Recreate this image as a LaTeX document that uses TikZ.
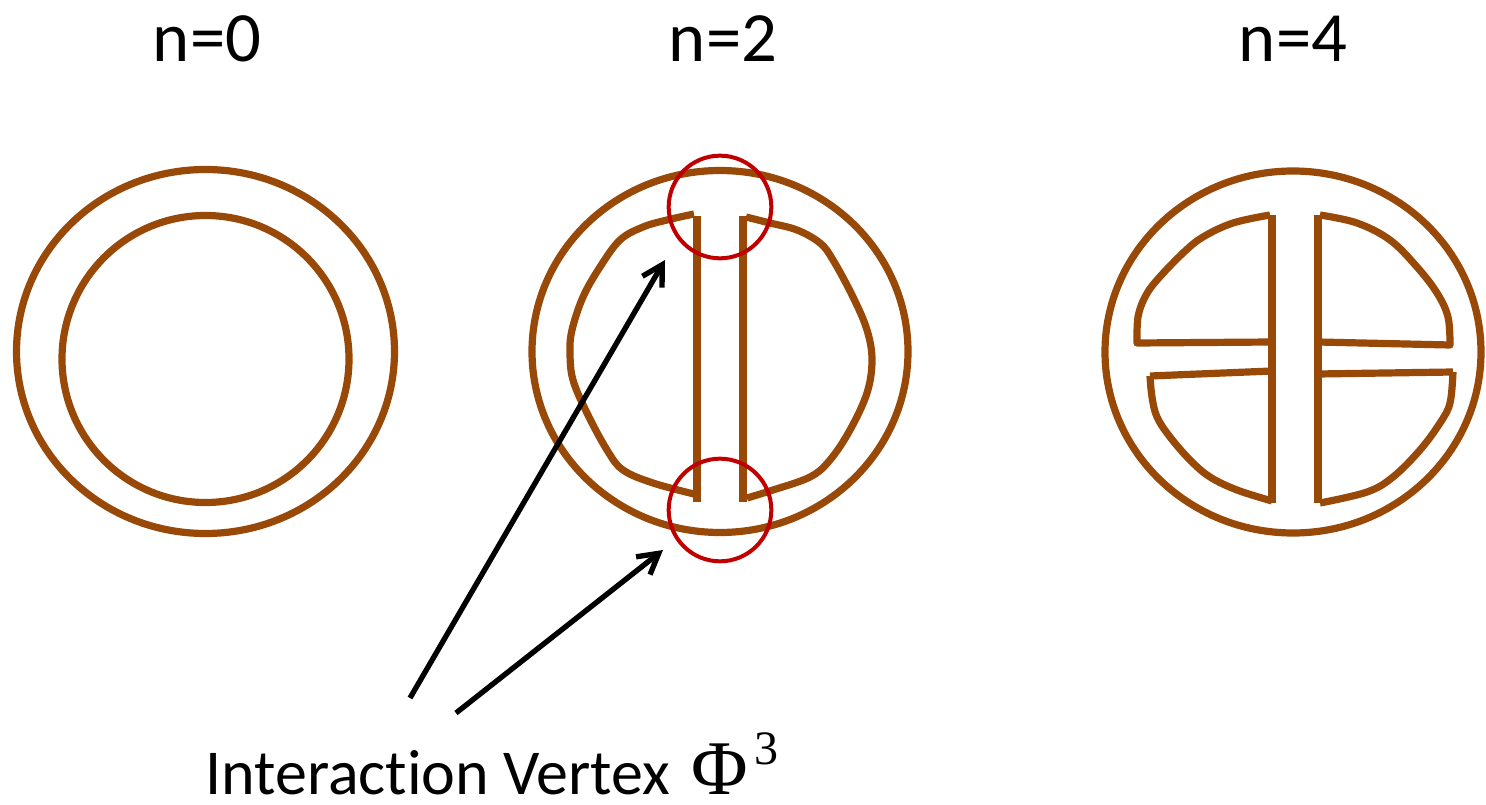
\documentclass[tikz,border=0pt]{standalone}
\usepackage{fontspec}
\setmainfont[Ligatures=NoCommon]{Carlito}
\newfontfamily\phifont{Liberation Serif}
\usetikzlibrary{arrows.meta}
\definecolor{loopbrown}{HTML}{984807}
\definecolor{vertexred}{HTML}{C00000}
\tikzset{
  brownline/.style={
    draw=loopbrown,
    line width=5.4pt,
    line join=round
  },
  vertex/.style={
    draw=vertexred,
    line width=3pt,
    circle,
    minimum size=77pt,
    inner sep=0pt
  },
  pointer/.style={
    draw=black,
    line width=4pt,
    -{Straight Barb[length=15pt,width=17pt]}
  },
  heading/.style={
    anchor=base,
    inner sep=0pt,
    font=\fontsize{53}{62}\selectfont
  }
}

\begin{document}
\begin{tikzpicture}[x=0.75pt, y=-0.75pt]
    \useasboundingbox (0,0) rectangle (1486,805);

    % 見出し
    \node[heading] (t0) at (207,62) {n=0};
    \node[heading] (t2) at (723,62) {n=2};
    \node[heading] (t4) at (1293,62) {n=4};

    % n=0
    \draw[brownline] (205.5,351.5) ellipse [x radius=189, y radius=182];
    \draw[brownline] (205.5,359) circle [radius=143.5];

    % n=2
    \draw[brownline] (720,351.5) ellipse [x radius=188, y radius=181];
    \draw[brownline] (697,216) -- (697,502);
    \draw[brownline] (743,216) -- (743,502);
    \draw[brownline] plot[smooth, tension=0.6] coordinates {
      (694,214) (667,220) (643,227) (620,240) (600,267) (583,297)
      (572,330) (570,353) (573,380) (587,413) (607,450) (623,470)
      (653,483) (694,494)};
    \draw[brownline] plot[smooth, tension=0.6] coordinates {
      (746,217) (770,223) (797,230) (820,243) (833,260) (853,297)
      (867,330) (872,360) (867,393) (850,430) (830,460) (810,477)
      (773,490) (747,498)};
    \node[vertex] (vtop) at (720,207) {};
    \node[vertex] (vbot) at (720,510) {};

    % n=4
    \draw[brownline] (1293,352) ellipse [x radius=188, y radius=181];
    \draw[brownline] (1272,215) -- (1272,503);
    \draw[brownline] (1318,215) -- (1318,503);
    \draw[brownline] plot[smooth, tension=0.6] coordinates {
      (1270,215) (1233,223) (1203,237) (1183,253) (1157,280) (1145,297)
      (1138,317) (1137,343)} -- (1272,342);
    \draw[brownline] (1272,371) -- (1150,376) plot[smooth, tension=0.6] coordinates {
      (1150,376) (1152,397) (1157,417) (1170,437) (1190,460) (1210,477)
      (1237,490) (1272,501)};
    \draw[brownline] plot[smooth, tension=0.6] coordinates {
      (1320,215) (1357,223) (1390,240) (1417,267) (1437,293) (1448,317)
      (1450,345)} -- (1318,342);
    \draw[brownline] (1318,374) -- (1453,372) plot[smooth, tension=0.6] coordinates {
      (1453,372) (1450,403) (1440,423) (1420,450) (1393,477) (1367,492)
      (1320,503)};

    % 説明と矢印
    \node[anchor=base west, inner sep=0pt, font=\fontsize{48}{56}\selectfont] (label) at (205,794)
      {Interaction Vertex\hspace{16pt}{\phifont\fontsize{58}{62}\selectfont Φ\hspace{5pt}\raisebox{22pt}{\fontsize{36}{40}\selectfont 3}}};
    \coordinate (tail1) at (410,698);
    \coordinate (tail2) at (456,713);
    \coordinate (tip1) at (665,260);
    \coordinate (tip2) at (663,550);
    \draw[pointer] (tail1) -- (tip1);
    \draw[pointer] (tail2) -- (tip2);
\end{tikzpicture}
\end{document}
